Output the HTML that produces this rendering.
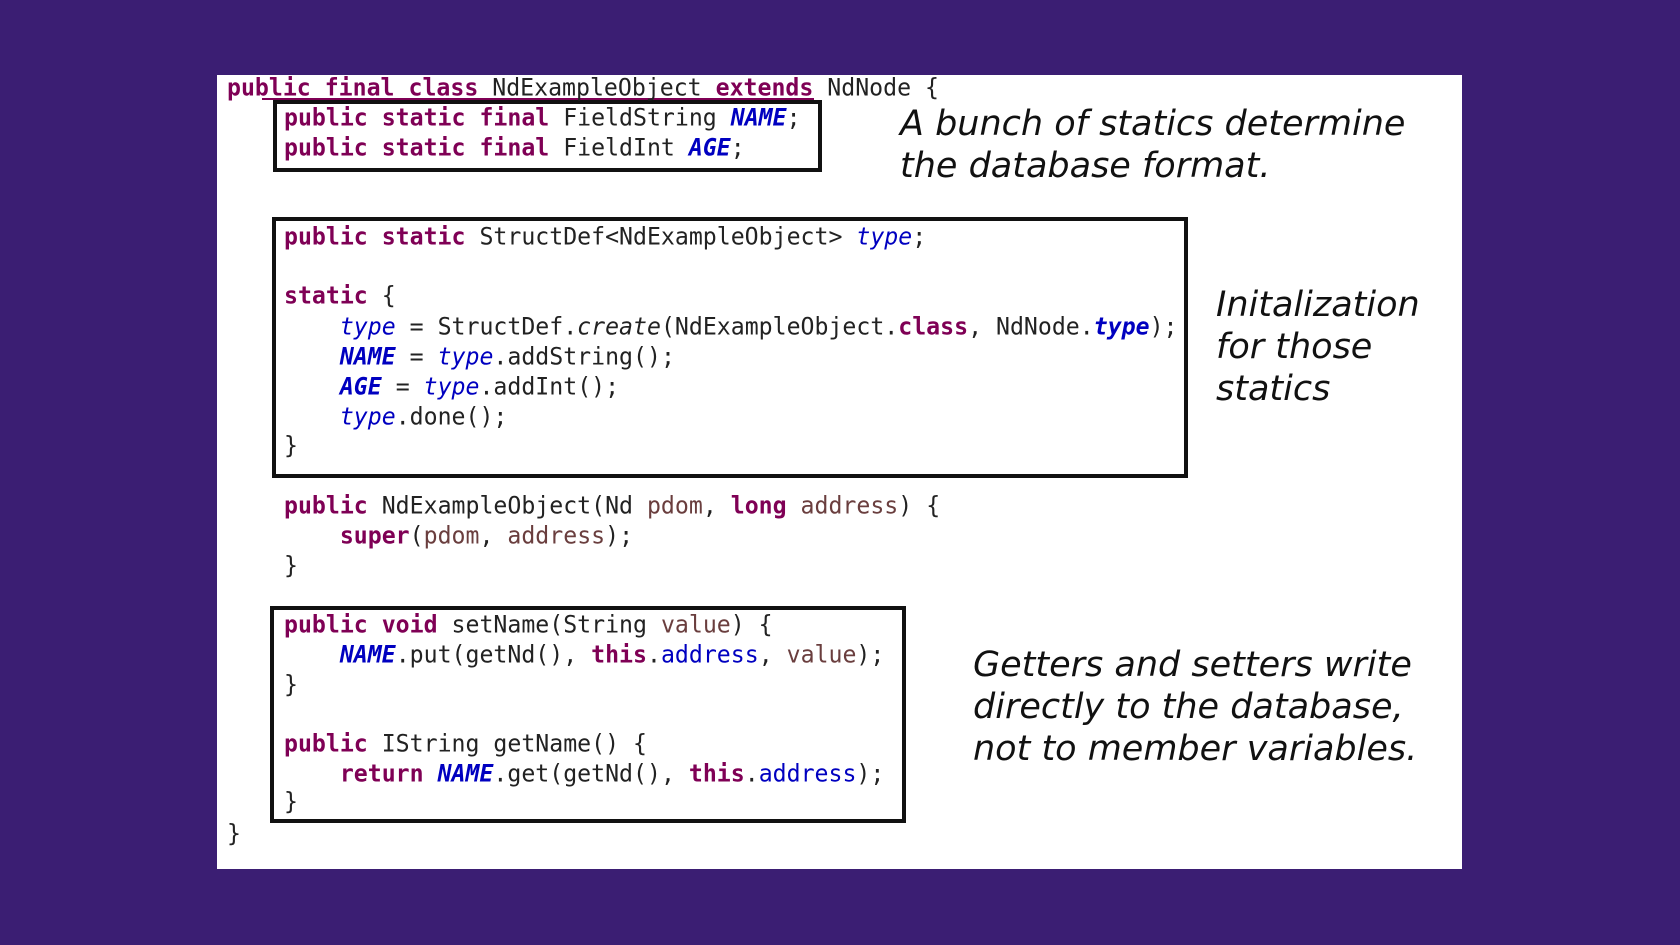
<!DOCTYPE html>
<html><head><meta charset="utf-8"><style>
body{margin:0;width:1680px;height:945px;background:#3b1e73;position:relative;overflow:hidden}
#p{position:absolute;left:217px;top:75px;width:1245px;height:794px;background:#fff}
.l{position:absolute;height:30px;line-height:30px;font-family:"DejaVu Sans Mono","Liberation Mono",monospace;font-size:23.2px;color:#222;white-space:pre;transform:scaleY(1.05);transform-origin:0 50%}
.k{color:#7f0055;font-weight:bold}
.f{color:#0000c0;font-weight:bold;font-style:italic}
.t{color:#0000c0;font-style:italic}
.v{color:#6a3e3e}
.a{color:#0000c0}
.i{font-style:italic}
.b{position:absolute;border:4px solid #111;box-sizing:border-box}
.n{position:absolute;font-family:"DejaVu Sans","Liberation Sans",sans-serif;font-style:italic;font-size:35px;line-height:42px;color:#111;white-space:pre}
</style></head><body>
<div id="p"></div>
<div class="b" style="left:273px;top:100px;width:549px;height:72px"></div>
<div class="b" style="left:272px;top:217px;width:916px;height:261px"></div>
<div class="b" style="left:270px;top:606px;width:636px;height:217px"></div>
<div style="position:absolute;left:262px;top:98px;width:552px;height:2px;background:#7f0055"></div>

<div class="l" style="left:227px;top:73px"><span class="k">public final class</span> NdExampleObject <span class="k">extends</span> NdNode {</div>
<div class="l" style="left:284px;top:103px"><span class="k">public static final</span> FieldString <span class="f">NAME</span>;</div>
<div class="l" style="left:284px;top:133px"><span class="k">public static final</span> FieldInt <span class="f">AGE</span>;</div>
<div class="l" style="left:284px;top:222px"><span class="k">public static</span> StructDef&lt;NdExampleObject&gt; <span class="t">type</span>;</div>
<div class="l" style="left:284px;top:281px"><span class="k">static</span> {</div>
<div class="l" style="left:284px;top:312px">    <span class="t">type</span> = StructDef.<span class="i">create</span>(NdExampleObject.<span class="k">class</span>, NdNode.<span class="f">type</span>);</div>
<div class="l" style="left:284px;top:342px">    <span class="f">NAME</span> = <span class="t">type</span>.addString();</div>
<div class="l" style="left:284px;top:372px">    <span class="f">AGE</span> = <span class="t">type</span>.addInt();</div>
<div class="l" style="left:284px;top:402px">    <span class="t">type</span>.done();</div>
<div class="l" style="left:284px;top:431px">}</div>
<div class="l" style="left:284px;top:491px"><span class="k">public</span> NdExampleObject(Nd <span class="v">pdom</span>, <span class="k">long</span> <span class="v">address</span>) {</div>
<div class="l" style="left:284px;top:521px">    <span class="k">super</span>(<span class="v">pdom</span>, <span class="v">address</span>);</div>
<div class="l" style="left:284px;top:551px">}</div>
<div class="l" style="left:284px;top:610px"><span class="k">public void</span> setName(String <span class="v">value</span>) {</div>
<div class="l" style="left:284px;top:640px">    <span class="f">NAME</span>.put(getNd(), <span class="k">this</span>.<span class="a">address</span>, <span class="v">value</span>);</div>
<div class="l" style="left:284px;top:670px">}</div>
<div class="l" style="left:284px;top:729px"><span class="k">public</span> IString getName() {</div>
<div class="l" style="left:284px;top:759px">    <span class="k">return</span> <span class="f">NAME</span>.get(getNd(), <span class="k">this</span>.<span class="a">address</span>);</div>
<div class="l" style="left:284px;top:787px">}</div>
<div class="l" style="left:227px;top:819px">}</div>

<div class="n" style="left:900px;top:103px">A bunch of statics determine
the database format.</div>
<div class="n" style="left:1216px;top:284px">Initalization
for those
statics</div>
<div class="n" style="left:973px;top:644px">Getters and setters write
directly to the database,
not to member variables.</div>
</body></html>
